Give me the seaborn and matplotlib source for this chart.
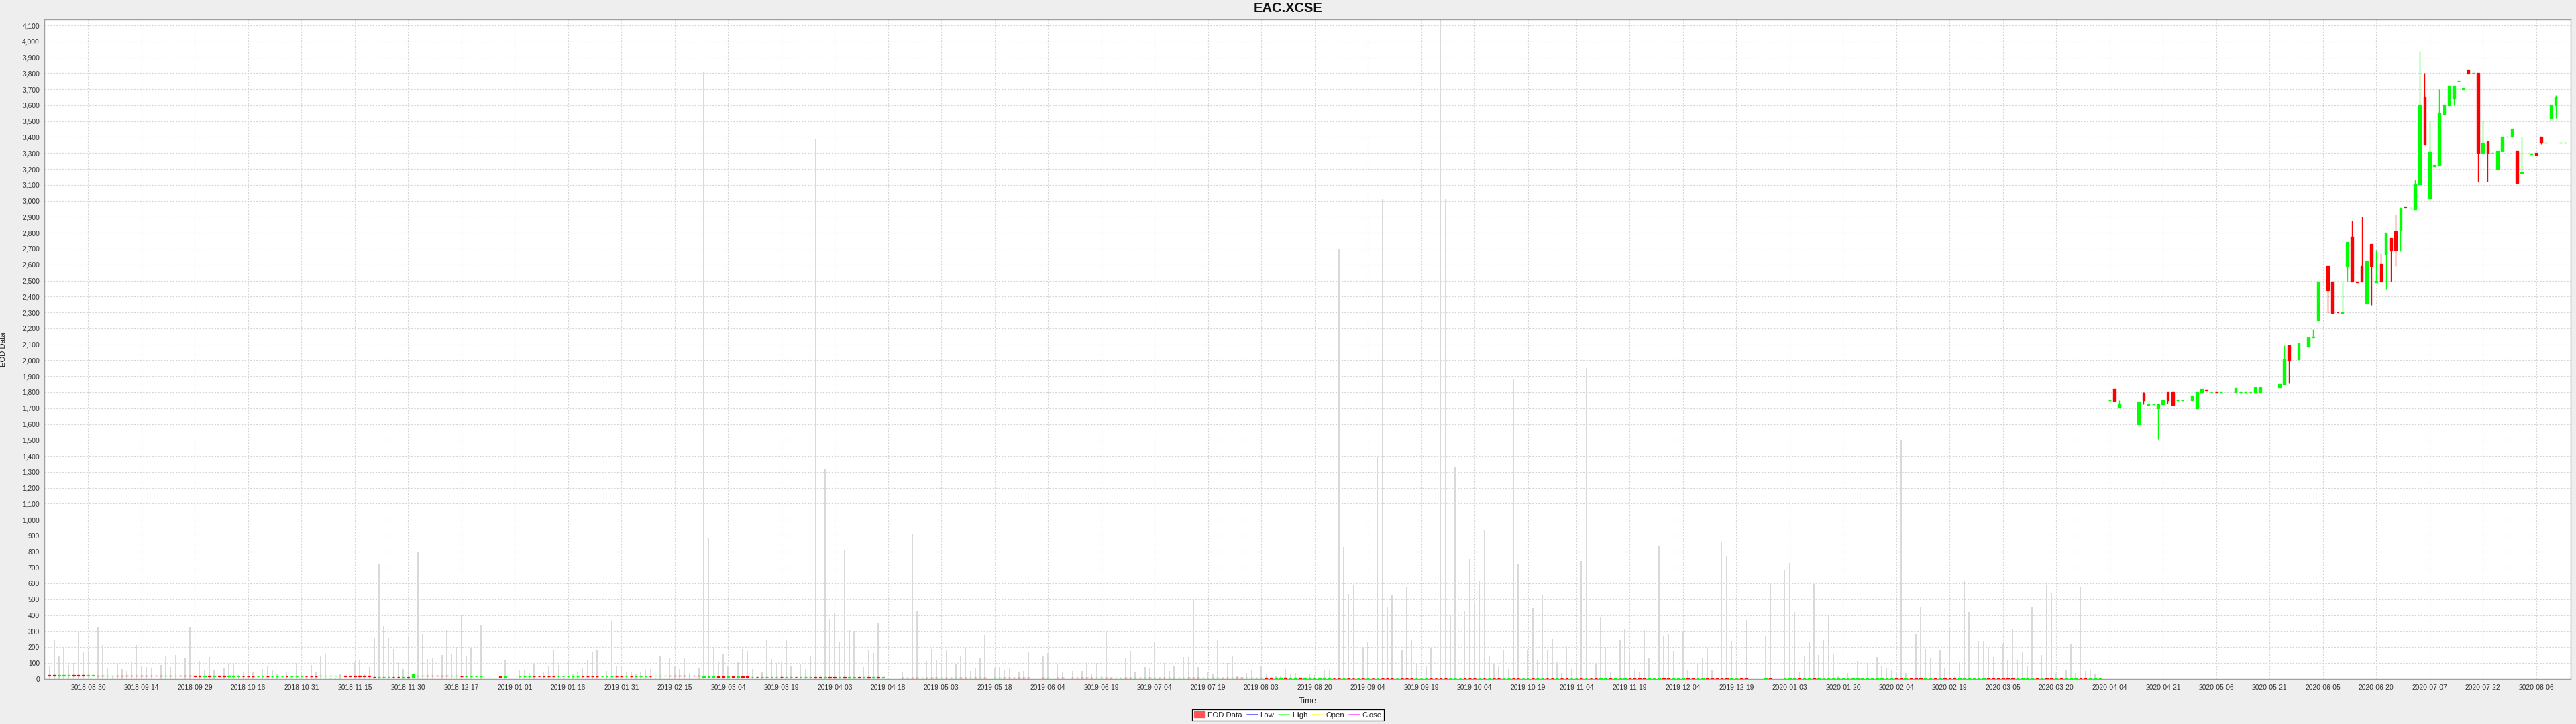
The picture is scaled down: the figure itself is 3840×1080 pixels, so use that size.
import numpy as np
import pandas as pd
import matplotlib
matplotlib.use("Agg")
import matplotlib.pyplot as plt
import matplotlib.ticker as mticker
from matplotlib.lines import Line2D
from matplotlib.patches import Patch
import seaborn as sns

# ---------------- data ----------------
title = "EAC.XCSE"

# 2018-08-20 .. 2020-04-02: tiny bodies near zero + grey volume bars
early_days = pd.bdate_range("2018-08-20", "2020-04-02")
N = None
early_open = [
    25, 25, 23, 23, 23, 25, 25, 25, 23, 23,
    23, 23, 21, 21, 23, 23, 23, 23, 23, 23,
    22, 22, 22, 22, 20, 22, 20, 22, 22, 22,
    20, 20, 18, 20, 18, 20, 20, 18, 18, 18,
    18, 18, 18, 16, 16, 18, 16, 16, 16, 18,
    16, 16, 16, 18, 18, 18, 19, 19, 19, 19,
    19, 19, 19, 19, 19, 19, 19, 14, 12, 12,
    12, 14, 14, 10, 12, 10, 20, 20, 22, 22,
    21, 21, 21, 19, 19, 18, 16, 16, 16, 16,
    N, N, N, 16, 14, N, N, 15, 15, 15,
    17, 17, 17, 17, 17, 15, 15, 15, 15, 15,
    17, 17, 17, 18, 16, 16, 16, 18, 18, 16,
    18, 16, 16, 16, 18, 19, 19, 19, 21, 21,
    21, 21, 19, 21, 21, 13, 13, 13, 15, 15,
    13, 15, 13, 15, 15, 12, 14, 12, 12, 12,
    12, 14, 12, 12, 14, 12, 12, 12, 12, 12,
    10, 12, 12, 10, 12, 9, 9, 11, 9, 11,
    9, 11, 9, N, N, N, 10, 8, 10, 10,
    8, 10, 10, 10, 8, 10, 10, 8, 10, 10,
    8, 10, 8, 10, N, 7, 7, 9, 9, 9,
    9, 9, 9, N, N, 9, 7, N, 9, 9,
    N, 9, 9, 9, 9, 9, 7, 7, 9, 9,
    7, 7, 9, 9, 7, 9, 7, 9, 7, 9,
    9, 7, 7, 7, 7, 9, 9, 9, 7, 7,
    7, 7, 9, 9, 7, 9, 9, 7, 7, 7,
    7, 8, 8, 6, 6, 8, 6, 6, 8, 6,
    6, 6, 6, 6, 6, 6, 6, 4, 6, 6,
    4, 6, 4, 6, 4, 6, 6, 6, 4, 6,
    6, 6, 4, 4, 4, 6, 6, 6, 6, 4,
    4, 4, 6, 6, 6, 4, 6, 4, 6, 6,
    4, 4, 6, 6, 4, 4, 6, 4, 4, 6,
    6, 4, 6, 6, 4, 4, 6, 4, 6, 6,
    2, 2, 4, 2, 2, 2, 4, 4, 4, 4,
    2, 2, 2, 4, 4, 2, 2, 2, 4, 4,
    2, 2, 4, 4, 4, 4, 4, 2, 2, 4,
    4, N, N, N, 2, 4, N, N, 2, 2,
    2, 4, 2, 2, 4, 2, 2, 2, 2, 2,
    2, 2, 2, 2, 2, 2, 2, 2, 2, 2,
    2, 4, 4, 2, 4, 4, 4, 2, 2, 4,
    2, 4, 4, 4, 2, 2, 2, 2, 2, 2,
    4, 4, 4, 4, 4, 4, 2, 2, 2, 2,
    4, 2, 4, 4, 2, 4, 2, 2, 2, 4,
    4, 2, 2, 2,
]
early_close = [
    23, 23, 25, 25, 25, 23, 23, 23, 25, 25,
    21, 21, 23, 23, 21, 21, 21, 21, 21, 21,
    20, 20, 20, 20, 22, 20, 22, 20, 20, 20,
    18, 18, 20, 18, 20, 18, 18, 20, 20, 20,
    16, 16, 16, 18, 18, 16, 18, 18, 18, 16,
    18, 18, 18, 16, 16, 16, 21, 21, 21, 21,
    21, 17, 17, 17, 17, 17, 17, 12, 14, 14,
    14, 12, 12, 12, 10, 28, 22, 22, 20, 20,
    19, 19, 19, 21, 21, 16, 18, 18, 18, 18,
    N, N, N, 14, 16, N, N, 17, 17, 17,
    15, 15, 15, 15, 15, 17, 17, 17, 17, 17,
    15, 15, 15, 16, 18, 18, 18, 16, 16, 18,
    16, 18, 18, 18, 16, 21, 21, 21, 19, 19,
    19, 19, 21, 19, 19, 15, 15, 15, 13, 13,
    15, 13, 15, 13, 13, 14, 12, 14, 14, 14,
    14, 12, 14, 14, 12, 14, 14, 14, 10, 10,
    12, 10, 10, 12, 10, 11, 11, 9, 11, 9,
    11, 9, 11, N, N, N, 8, 10, 8, 8,
    10, 8, 8, 8, 10, 8, 8, 10, 8, 8,
    10, 8, 10, 8, N, 9, 9, 7, 7, 7,
    7, 7, 7, N, N, 7, 9, N, 7, 7,
    N, 7, 7, 7, 7, 7, 9, 9, 7, 7,
    9, 9, 7, 7, 9, 7, 9, 7, 9, 7,
    7, 9, 9, 9, 9, 7, 7, 7, 9, 9,
    9, 9, 7, 7, 9, 7, 7, 9, 9, 9,
    9, 6, 6, 8, 8, 6, 8, 8, 6, 8,
    8, 8, 8, 8, 8, 4, 4, 6, 4, 4,
    6, 4, 6, 4, 6, 4, 4, 4, 6, 4,
    4, 4, 6, 6, 6, 4, 4, 4, 4, 6,
    6, 6, 4, 4, 4, 6, 4, 6, 4, 4,
    6, 6, 4, 4, 6, 6, 4, 6, 6, 4,
    4, 6, 4, 4, 6, 6, 4, 6, 4, 4,
    4, 4, 2, 4, 4, 4, 2, 2, 2, 2,
    4, 4, 4, 2, 2, 4, 4, 4, 2, 2,
    4, 4, 2, 2, 2, 2, 2, 4, 4, 2,
    2, N, N, N, 4, 2, N, N, 4, 4,
    4, 2, 4, 4, 2, 4, 4, 4, 4, 4,
    4, 4, 4, 4, 4, 4, 4, 4, 4, 4,
    4, 2, 2, 4, 2, 2, 2, 4, 4, 2,
    4, 2, 2, 2, 4, 4, 4, 4, 4, 4,
    2, 2, 2, 2, 2, 2, 4, 4, 4, 4,
    2, 4, 2, 2, 4, 2, 4, 4, 4, 2,
    2, 4, 4, 4,
]
# volume bar heights, in price-axis units as they appear on the chart
early_volume = [
    86, 248, 143, 203, 90, 103, 302, 174, 175, 110,
    329, 215, 70, 20, 102, 65, 50, 111, 215, 80,
    76, 68, 64, 90, 148, 74, 152, 148, 132, 327,
    127, 112, 60, 137, 60, 10, 73, 95, 91, 27,
    43, 103, 41, 42, 63, 79, 60, 35, 10, 47,
    10, 94, 33, 10, 90, 46, 147, 161, 10, 10,
    28, 53, 67, 106, 116, 30, 77, 257, 719, 334,
    257, 190, 109, 62, 270, 1747, 793, 282, 128, 129,
    196, 150, 307, 155, 200, 401, 144, 194, 279, 340,
    N, N, N, 281, 122, N, N, 53, 55, 38,
    95, 66, 48, 82, 180, 88, 10, 123, 35, 48,
    71, 123, 173, 182, 42, 50, 361, 78, 85, 45,
    48, 31, 48, 56, 63, 10, 141, 378, 129, 85,
    64, 131, 39, 333, 71, 3810, 887, 203, 105, 158,
    85, 200, 105, 190, 176, 62, 91, 45, 249, 127,
    101, 110, 243, 81, 124, 94, 63, 144, 3390, 2450,
    1317, 378, 415, 231, 807, 305, 302, 361, 76, 185,
    165, 347, 301, N, N, N, 42, 10, 912, 427,
    266, 112, 190, 123, 101, 185, 95, 95, 144, 196,
    52, 69, 129, 276, N, 71, 76, 60, 73, 172,
    41, 52, 173, N, N, 141, 165, N, 91, 46,
    N, 50, 129, 49, 94, 31, 101, 22, 294, 10,
    124, 10, 130, 178, 42, 138, 74, 66, 236, 10,
    101, 52, 81, 10, 138, 137, 499, 77, 42, 45,
    31, 249, 10, 101, 143, 22, 14, 38, 55, 10,
    84, 31, 63, 22, 17, 64, 35, 39, 10, 10,
    28, 25, 10, 56, 60, 3505, 2697, 828, 536, 587,
    154, 199, 231, 350, 1390, 3010, 450, 526, 133, 182,
    578, 243, 91, 657, 81, 194, 143, 4138, 3010, 403,
    1329, 358, 429, 751, 476, 615, 934, 144, 95, 81,
    182, 64, 1880, 719, 60, 182, 445, 119, 527, 185,
    252, 110, 36, 207, 64, 100, 740, 1950, 140, 95,
    392, 203, 48, 155, 242, 316, 173, 59, 48, 308,
    131, 22, 838, 270, 283, 178, 169, 298, 56, 60,
    94, 131, 194, 56, 137, 863, 769, 238, 110, 366,
    372, N, N, N, 274, 599, N, N, 685, 727,
    422, 42, 144, 232, 599, 152, 242, 397, 157, 21,
    200, 39, 10, 115, 10, 95, 43, 140, 81, 73,
    60, 42, 1500, 39, 27, 283, 455, 189, 133, 106,
    186, 66, 319, 22, 108, 613, 420, 77, 241, 241,
    194, 137, 215, 220, 117, 310, 122, 171, 81, 451,
    297, 153, 594, 543, 35, 21, 56, 218, 39, 578,
    49, 56, 31, 286,
]

# 2020-04-06 .. 2020-08-14: full candles
late_days = pd.bdate_range("2020-04-06", "2020-08-14")
late_open = [
    1749, 1821, 1704, N, N, N, 1600, 1794, 1722, 1724,
    1699, 1724, 1800, 1800, 1749, 1749, N, 1749, 1699, 1800,
    1811, 1799, 1801, 1799, N, N, 1800, 1799, 1799, 1799,
    1800, 1800, N, N, N, 1829, 1849, 2096, N, 2007,
    N, 2085, 2146, 2249, N, 2590, 2493, 2301, 2294, 2590,
    2776, 2493, 2592, 2353, 2730, 2490, 2601, 2661, 2765, 2808,
    2815, 2962, 2955, 2944, 3104, 3653, 3014, 3217, 3223, 3546,
    3601, 3640, 3750, 3700, 3821, 3800, 3802, 3302, 3374, 3300,
    3202, 3312, 3400, 3402, 3315, 3175, N, 3293, 3302, 3404,
    3364, 3521, 3601, 3364, 3364,
]
late_high = [
    1751, 1821, 1751, N, N, N, 1739, 1800, 1751, 1726,
    1725, 1750, 1800, 1800, 1751, 1751, N, 1779, 1800, 1821,
    1811, 1801, 1801, 1801, N, N, 1824, 1801, 1801, 1801,
    1829, 1829, N, N, N, 1849, 2096, 2096, N, 2106,
    N, 2146, 2196, 2492, N, 2590, 2493, 2301, 2493, 2740,
    2875, 2493, 2900, 2621, 2730, 2693, 2671, 2800, 2765, 2915,
    2957, 2962, 2958, 3133, 3941, 3801, 3503, 3226, 3699, 3604,
    3723, 3723, 3753, 3703, 3821, 3803, 3802, 3503, 3374, 3303,
    3315, 3402, 3403, 3452, 3315, 3402, N, 3296, 3302, 3404,
    3366, 3604, 3661, 3366, 3366,
]
late_low = [
    1749, 1747, 1704, N, N, N, 1600, 1724, 1722, 1724,
    1505, 1724, 1729, 1722, 1749, 1749, N, 1749, 1699, 1800,
    1809, 1799, 1799, 1799, N, N, 1800, 1799, 1799, 1799,
    1800, 1800, N, N, N, 1829, 1849, 1853, N, 2007,
    N, 2085, 2146, 2249, N, 2294, 2294, 2299, 2294, 2493,
    2492, 2491, 2492, 2353, 2346, 2490, 2492, 2446, 2492, 2590,
    2683, 2958, 2955, 2944, 3104, 3351, 3014, 3217, 3223, 3546,
    3601, 3601, 3750, 3700, 3799, 3800, 3122, 3302, 3122, 3300,
    3202, 3312, 3400, 3402, 3110, 3175, N, 3293, 3288, 3355,
    3364, 3503, 3521, 3364, 3364,
]
late_close = [
    1751, 1747, 1725, N, N, N, 1739, 1749, 1726, 1726,
    1725, 1750, 1749, 1722, 1751, 1751, N, 1779, 1800, 1821,
    1809, 1801, 1799, 1801, N, N, 1824, 1801, 1801, 1801,
    1829, 1829, N, N, N, 1849, 2008, 1996, N, 2106,
    N, 2146, 2150, 2492, N, 2440, 2294, 2299, 2300, 2740,
    2492, 2491, 2492, 2621, 2590, 2496, 2492, 2800, 2690, 2690,
    2957, 2958, 2958, 3107, 3604, 3351, 3309, 3226, 3553, 3604,
    3723, 3723, 3753, 3703, 3799, 3803, 3302, 3365, 3302, 3303,
    3315, 3402, 3403, 3452, 3110, 3178, N, 3296, 3288, 3365,
    3366, 3604, 3653, 3366, 3366,
]

tick_labels = [
    "2018-08-30", "2018-09-14", "2018-09-29", "2018-10-16", "2018-10-31",
    "2018-11-15", "2018-11-30", "2018-12-17", "2019-01-01", "2019-01-16",
    "2019-01-31", "2019-02-15", "2019-03-04", "2019-03-19", "2019-04-03",
    "2019-04-18", "2019-05-03", "2019-05-18", "2019-06-04", "2019-06-19",
    "2019-07-04", "2019-07-19", "2019-08-03", "2019-08-20", "2019-09-04",
    "2019-09-19", "2019-10-04", "2019-10-19", "2019-11-04", "2019-11-19",
    "2019-12-04", "2019-12-19", "2020-01-03", "2020-01-20", "2020-02-04",
    "2020-02-19", "2020-03-05", "2020-03-20", "2020-04-04", "2020-04-21",
    "2020-05-06", "2020-05-21", "2020-06-05", "2020-06-20", "2020-07-07",
    "2020-07-22", "2020-08-06",
]

# ---------------- frames ----------------
base = np.datetime64("2018-08-20")


def trading_pos(dates):
    # weekday-only (segmented) time axis
    return np.busday_count(base, np.asarray(dates, dtype="datetime64[D]"))


early = pd.DataFrame({"date": early_days, "open": early_open,
                      "close": early_close, "volume": early_volume}).dropna()
early["x"] = trading_pos(early["date"].values)

late = pd.DataFrame({"date": late_days, "open": late_open, "high": late_high,
                     "low": late_low, "close": late_close}).dropna()
late["x"] = trading_pos(late["date"].values)

# ---------------- style ----------------
sns.set_theme(style="white")
plt.rcParams["font.family"] = ["Liberation Sans", "DejaVu Sans"]

up_col, down_col = "#00ff00", "#ff0000"
grid_col = "#d4d4d4"
frame_col = "#a0a0a0"

fig = plt.figure(figsize=(38.4, 10.8), dpi=100, facecolor="#eeeeee")
ax = fig.add_axes([66 / 3840, 1 - 1013 / 1080, 3766 / 3840, 984 / 1080])
ax.set_facecolor("white")

# volume bars (light grey)
ax.bar(early["x"], early["volume"], width=0.22, color="#d9d9d9",
       linewidth=0, zorder=2)


def draw_bodies(df, width=0.5):
    cols = np.where(df["close"] >= df["open"], up_col, down_col)
    bottom = np.minimum(df["open"], df["close"])
    height = np.abs(df["close"] - df["open"])
    ax.bar(df["x"], height, bottom=bottom, width=width, color=cols,
           edgecolor=cols, linewidth=1.0, zorder=4)
    return cols


draw_bodies(early)
late_cols = draw_bodies(late)
ax.vlines(late["x"], late["low"], late["high"], colors=late_cols,
          linewidth=1.0, zorder=3)

# ---------------- axes ----------------
ax.set_xlim(-1.05, 520.1)
ax.set_ylim(0, 4138)
ax.set_yticks(np.arange(0, 4101, 100))
ax.yaxis.set_major_formatter(mticker.FuncFormatter(lambda v, p: f"{v:,.0f}"))
ax.set_xticks(trading_pos(pd.to_datetime(tick_labels).values))
ax.set_xticklabels(tick_labels)

ax.set_axisbelow(True)
ax.grid(True, color=grid_col, linestyle=(0, (2, 2)), linewidth=0.8)
for s in ax.spines.values():
    s.set_color(frame_col)
    s.set_linewidth(1.0)
ax.tick_params(axis="both", labelsize=7.4, colors="#444444", labelcolor="#333333",
               length=2.5, width=0.8, pad=2.5, direction="out")
ax.tick_params(axis="x", pad=3)

ax.set_xlabel("Time", fontsize=9, color="#222222")
ax.xaxis.set_label_coords(0.5, -0.0275)
ax.set_ylabel("EOD Data", fontsize=8.2, color="#222222")
ax.yaxis.set_label_coords(-0.0148, 0.5)

fig.text(0.5, 1 - 13 / 1080, title, ha="center", va="center",
         fontsize=14.5, fontweight="bold", color="#111111")

handles = [
    Patch(facecolor="#ff5555", edgecolor="#ff5555", label="EOD Data"),
    Line2D([], [], color="#5555ff", lw=1.2, label="Low"),
    Line2D([], [], color="#55ff55", lw=1.2, label="High"),
    Line2D([], [], color="#ffff55", lw=1.2, label="Open"),
    Line2D([], [], color="#ff55ff", lw=1.2, label="Close"),
]
leg = fig.legend(handles=handles, loc="center", bbox_to_anchor=(0.5, 0.0125),
                 ncol=5, fontsize=8.2, frameon=True, fancybox=False,
                 edgecolor="black", facecolor="white", framealpha=1,
                 handlelength=1.4, handleheight=0.8, handletextpad=0.35,
                 columnspacing=0.6, borderpad=0.3, borderaxespad=0)
leg.get_frame().set_linewidth(0.9)

fig.savefig("out.png", dpi=100, facecolor=fig.get_facecolor())
